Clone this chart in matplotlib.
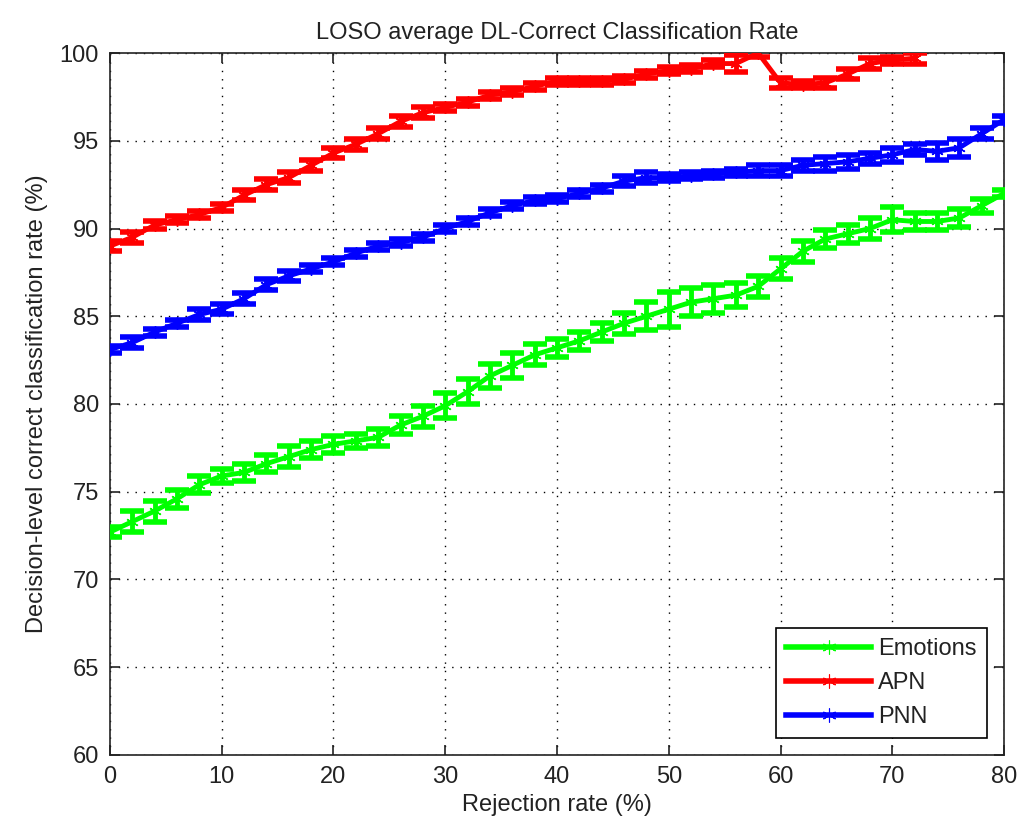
import numpy as np
import matplotlib
matplotlib.use("Agg")
import matplotlib.pyplot as plt
from matplotlib.lines import Line2D

# === Data ===
rejection = np.arange(0, 82, 2)

emotions = [72.7, 73.3, 73.9, 74.6, 75.4, 75.9, 76.1, 76.6, 77.0, 77.4,
            77.7, 77.9, 78.1, 78.8, 79.3, 79.9, 80.7, 81.6, 82.2, 82.8,
            83.2, 83.6, 84.1, 84.6, 85.0, 85.4, 85.8, 86.0, 86.2, 86.7,
            87.7, 88.7, 89.4, 89.7, 90.0, 90.5, 90.4, 90.4, 90.6, 91.3,
            92.0]
emotions_err = [0.3, 0.6, 0.6, 0.5, 0.5, 0.4, 0.5, 0.5, 0.6, 0.5,
                0.5, 0.4, 0.5, 0.5, 0.6, 0.7, 0.7, 0.7, 0.7, 0.6,
                0.5, 0.5, 0.5, 0.6, 0.8, 1.0, 0.8, 0.8, 0.7, 0.6,
                0.6, 0.6, 0.5, 0.5, 0.6, 0.7, 0.5, 0.5, 0.5, 0.4,
                0.2]

apn = [89.0, 89.5, 90.2, 90.5, 90.8, 91.2, 91.9, 92.5, 92.9, 93.6,
       94.3, 94.8, 95.4, 96.1, 96.6, 96.9, 97.2, 97.6, 97.8, 98.1,
       98.4, 98.4, 98.4, 98.5, 98.8, 99.0, 99.1, 99.4, 99.4, 100.0,
       98.3, 98.2, 98.3, 98.8, 99.4, 99.6, 99.7]
apn_err = [0.3, 0.3, 0.2, 0.2, 0.2, 0.2, 0.3, 0.3, 0.3, 0.3,
           0.3, 0.3, 0.3, 0.3, 0.3, 0.2, 0.2, 0.2, 0.2, 0.2,
           0.2, 0.2, 0.2, 0.2, 0.2, 0.2, 0.2, 0.2, 0.5, 0.2,
           0.3, 0.2, 0.3, 0.3, 0.3, 0.2, 0.3]

pnn = [83.1, 83.5, 84.1, 84.6, 85.1, 85.4, 86.0, 86.8, 87.3, 87.7,
       88.1, 88.6, 89.0, 89.2, 89.5, 90.0, 90.4, 90.9, 91.3, 91.6,
       91.7, 92.0, 92.3, 92.7, 92.9, 92.9, 93.0, 93.1, 93.2, 93.3,
       93.3, 93.6, 93.7, 93.8, 94.0, 94.2, 94.5, 94.4, 94.6, 95.4,
       96.2]
pnn_err = [0.2, 0.3, 0.2, 0.2, 0.3, 0.3, 0.3, 0.3, 0.3, 0.2,
           0.2, 0.2, 0.2, 0.2, 0.2, 0.2, 0.2, 0.2, 0.2, 0.2,
           0.2, 0.2, 0.2, 0.3, 0.3, 0.2, 0.2, 0.2, 0.2, 0.3,
           0.3, 0.3, 0.4, 0.4, 0.3, 0.4, 0.3, 0.5, 0.5, 0.3,
           0.2]

series = [
    ("Emotions", emotions, emotions_err, (0, 1, 0)),
    ("APN", apn, apn_err, (1, 0, 0)),
    ("PNN", pnn, pnn_err, (0, 0, 1)),
]

plt.rcParams["font.family"] = ["Liberation Sans", "DejaVu Sans"]
text_color = "#222222"
asterisk = (6, 2, 0)

fig = plt.figure(figsize=(10.22, 8.31), dpi=100)
ax = fig.add_axes([0.1076, 0.0915, 0.8748, 0.8447])

handles = []
for label, vals, errs, color in series:
    x = rejection[:len(vals)]
    # thick MATLAB-style error bars with wide caps
    ax.errorbar(x, vals, yerr=errs, color=color, linewidth=3.5,
                elinewidth=3.5, capsize=8.5, capthick=4, zorder=3)
    ax.plot(x, vals, linestyle="none", marker=asterisk, markersize=9,
            markeredgewidth=1, color=color, zorder=4)
    handles.append(Line2D([], [], color=color, linewidth=4,
                          marker=asterisk, markersize=10,
                          markeredgewidth=0.8, label=label))

ax.set_xlim(0, 80)
ax.set_ylim(60, 100)
ax.set_xticks(np.arange(0, 81, 10))
ax.set_yticks(np.arange(60, 101, 5))
ax.grid(True, linestyle=(0, (1, 5)), color="black", linewidth=1.0)
ax.tick_params(direction="in", length=7, width=1.2, top=True, right=True,
               labelsize=17, colors=text_color, pad=8)
for sp in ax.spines.values():
    sp.set_linewidth(1.2)
    sp.set_color("#222222")

ax.set_title("LOSO average DL-Correct Classification Rate", fontsize=17,
             color=text_color, pad=10)
ax.set_xlabel("Rejection rate (%)", fontsize=17, color=text_color, labelpad=4)
ax.set_ylabel("Decision-level correct classification rate (%)", fontsize=17,
              color=text_color, labelpad=8)

leg = ax.legend(handles=handles, loc="lower right", fontsize=17,
                fancybox=False, edgecolor="black", framealpha=1,
                handlelength=3.6, borderaxespad=0.7, labelspacing=0.5,
                handletextpad=0.3, borderpad=0.45)
leg.get_frame().set_linewidth(1.2)
for t in leg.get_texts():
    t.set_color(text_color)

fig.savefig("out.png", dpi=100)
